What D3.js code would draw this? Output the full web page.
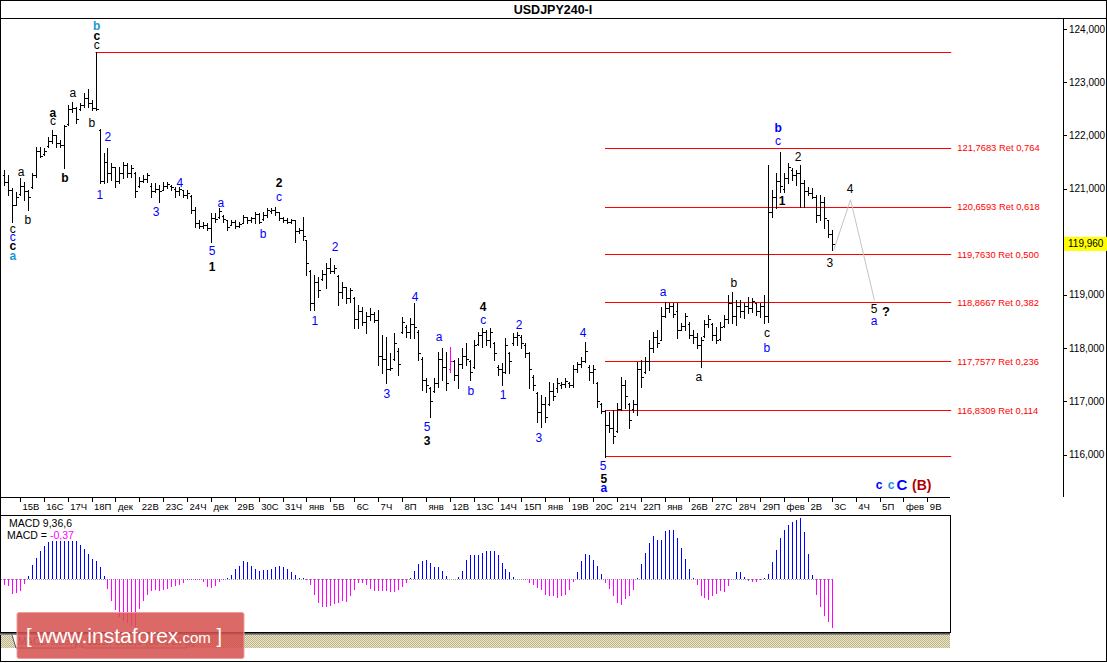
<!DOCTYPE html>
<html><head><meta charset="utf-8">
<script src="https://cdn.jsdelivr.net/npm/d3@7/dist/d3.min.js"></script>
<style>
html,body{margin:0;padding:0;background:#fff;}
svg{display:block;font-family:"Liberation Sans",Arial,sans-serif;}
</style></head><body>
<svg id="chart" width="1107" height="663"></svg>
<script>
// ---------------- DATA ----------------
const title = "USDJPY240-I";

const opens = [
121.25,121.12,120.97,120.70,120.90,121.05,120.95,121.02,121.25,121.70,
121.65,121.80,121.90,122.00,121.85,121.82,122.22,122.50,122.52,122.50,
122.58,122.70,122.60,122.52,122.10,121.15,121.50,121.30,121.40,121.15,
121.30,121.45,121.30,121.30,121.05,121.15,121.18,121.05,120.95,121.00,
120.98,121.05,121.05,121.00,120.95,120.97,120.88,120.86,120.60,120.35,
120.30,120.32,120.25,120.45,120.46,120.48,120.40,120.32,120.38,120.30,
120.36,120.46,120.40,120.45,120.52,120.42,120.50,120.58,120.60,120.55,
120.45,120.40,120.38,120.40,120.20,120.22,120.03,119.45,118.85,119.25,
119.30,119.40,119.50,119.45,119.35,119.05,119.15,118.95,118.95,118.55,
118.70,118.50,118.60,118.65,118.52,117.85,117.80,117.60,117.80,117.95,
118.30,118.40,118.30,118.45,118.30,117.80,117.40,117.25,117.20,117.35,
117.80,117.65,117.60,117.75,117.50,117.70,117.85,117.75,117.65,118.08,
118.25,118.30,118.15,118.10,117.65,117.60,117.55,117.90,118.10,118.20,
118.20,118.05,117.90,117.45,117.15,116.80,116.95,116.95,117.20,117.25,
117.30,117.32,117.35,117.30,117.60,117.70,117.75,117.65,117.55,117.35,
116.95,116.82,116.55,116.50,116.45,116.85,117.30,116.95,116.85,116.95,
117.60,117.55,117.75,118.00,118.20,118.15,118.60,118.75,118.80,118.70,
118.35,118.42,118.45,118.25,118.20,118.05,118.22,118.45,118.45,118.25,
118.18,118.42,118.55,118.85,118.60,118.80,118.70,118.80,118.75,118.85,
118.70,118.80,118.60,120.55,120.85,121.15,121.00,121.20,121.35,121.25,
121.30,121.10,120.95,120.92,120.85,120.50,120.75,120.40,120.15];

const highs = [
121.35,121.25,121.01,120.93,121.20,121.12,120.97,121.29,121.78,121.78,
121.76,121.97,122.10,122.01,121.91,122.20,122.57,122.63,122.53,122.61,
122.80,122.87,122.67,123.57,122.12,121.67,121.76,121.48,121.40,121.40,
121.50,121.48,121.44,121.31,121.22,121.25,121.29,121.10,121.10,121.07,
121.12,121.12,121.07,121.03,121.03,120.97,120.97,120.88,120.65,120.41,
120.37,120.35,120.54,120.54,120.63,120.50,120.41,120.41,120.41,120.37,
120.50,120.47,120.47,120.56,120.54,120.56,120.63,120.63,120.65,120.56,
120.47,120.45,120.43,120.41,120.26,120.47,120.03,119.47,119.38,119.34,
119.47,119.60,119.70,119.56,119.38,119.24,119.15,119.13,118.96,118.81,
118.77,118.68,118.75,118.68,118.72,118.25,118.21,117.91,118.28,118.00,
118.59,118.44,118.57,118.85,118.34,117.83,117.44,117.27,117.44,117.93,
118.00,117.93,118.02,117.78,117.81,118.00,118.10,117.78,118.15,118.30,
118.38,118.34,118.38,118.12,117.68,117.72,118.19,117.93,118.28,118.30,
118.25,118.10,117.93,117.50,117.18,117.12,117.08,117.36,117.34,117.44,
117.36,117.44,117.36,117.68,117.74,117.83,118.12,117.68,117.68,117.36,
116.97,116.84,116.80,116.84,116.97,117.46,117.40,116.97,117.02,117.74,
117.78,117.83,118.15,118.30,118.34,118.77,118.87,118.85,118.85,118.85,
118.47,118.66,118.49,118.34,118.28,118.21,118.53,118.62,118.47,118.40,
118.49,118.62,119.00,119.06,118.91,118.91,118.85,118.96,118.94,118.85,
118.85,119.00,121.44,120.97,121.29,121.69,121.29,121.48,121.39,121.35,
121.44,121.16,121.03,121.01,120.88,120.88,120.84,120.41,120.22];

const lows = [
121.07,120.88,120.37,120.69,120.88,120.79,120.60,121.01,121.22,121.59,
121.63,121.78,121.86,121.78,121.78,121.39,122.20,122.44,122.23,122.48,
122.53,122.53,122.48,122.48,121.10,121.10,121.12,121.16,121.03,121.10,
121.20,121.22,121.22,120.84,121.03,121.12,121.12,120.84,120.93,120.75,
120.97,121.01,120.97,120.84,120.88,120.84,120.82,120.54,120.28,120.26,
120.26,120.22,119.99,120.37,120.45,120.37,120.22,120.32,120.26,120.28,
120.35,120.35,120.37,120.35,120.35,120.41,120.47,120.54,120.50,120.41,
120.37,120.35,120.35,119.99,120.16,120.03,119.38,118.72,118.72,118.96,
119.28,119.13,119.41,119.41,118.81,118.94,118.85,118.87,118.38,118.38,
118.44,118.28,118.53,118.49,117.68,117.53,117.35,117.59,117.78,117.50,
118.28,118.21,118.19,118.19,117.78,117.21,117.18,116.71,117.18,117.27,
117.40,117.21,117.55,117.40,117.25,117.63,117.68,117.40,117.63,118.06,
118.02,118.06,118.02,117.78,117.50,117.31,117.53,117.53,118.06,118.06,
118.00,117.83,117.25,117.21,116.61,116.52,116.61,116.93,117.02,117.18,
117.25,117.27,117.27,117.27,117.55,117.65,117.74,117.40,117.34,116.89,
116.78,115.95,116.42,116.22,116.42,116.84,116.87,116.50,116.80,116.74,
117.27,117.53,117.59,117.93,118.02,118.15,118.59,118.68,118.59,118.19,
118.34,118.34,118.19,118.10,118.00,117.65,118.21,118.40,118.15,118.10,
118.15,118.40,118.47,118.47,118.44,118.59,118.57,118.66,118.68,118.62,
118.59,118.47,118.49,120.47,120.63,120.93,120.93,121.10,121.16,121.07,
120.65,120.65,120.88,120.82,120.37,120.41,120.26,120.09,119.85];

const closes = [
121.12,120.97,120.70,120.85,121.05,120.95,120.85,121.25,121.70,121.62,
121.70,121.90,122.00,121.85,121.82,122.18,122.50,122.52,122.30,122.58,
122.70,122.60,122.52,122.50,121.15,121.50,121.30,121.40,121.15,121.30,
121.45,121.30,121.38,120.95,121.15,121.18,121.25,120.95,121.00,120.95,
121.05,121.08,121.02,120.95,121.00,120.88,120.92,120.60,120.35,120.30,
120.32,120.25,120.45,120.42,120.58,120.42,120.28,120.38,120.30,120.34,
120.46,120.40,120.45,120.52,120.38,120.50,120.60,120.60,120.55,120.45,
120.40,120.38,120.40,120.20,120.22,120.10,119.60,118.85,119.25,119.10,
119.40,119.50,119.45,119.50,119.05,119.15,118.95,119.10,118.55,118.70,
118.50,118.60,118.65,118.52,117.85,117.80,117.60,117.62,118.10,117.70,
118.50,118.30,118.45,118.40,117.90,117.40,117.30,117.00,117.35,117.80,
117.65,117.35,117.75,117.50,117.70,117.85,117.80,117.55,118.05,118.25,
118.30,118.15,118.30,117.90,117.60,117.55,118.05,117.75,118.20,118.25,
118.10,117.90,117.60,117.30,116.80,116.95,116.70,117.20,117.10,117.35,
117.32,117.38,117.30,117.60,117.70,117.75,117.95,117.55,117.60,117.00,
116.82,116.55,116.50,116.35,116.85,117.30,117.10,116.65,116.95,117.60,
117.45,117.75,118.00,118.20,118.10,118.60,118.75,118.80,118.65,118.35,
118.42,118.60,118.25,118.20,118.05,118.15,118.45,118.55,118.25,118.15,
118.40,118.55,118.85,118.60,118.80,118.70,118.80,118.75,118.88,118.70,
118.80,118.60,120.55,120.85,121.15,121.05,121.20,121.40,121.25,121.30,
121.10,120.95,120.92,120.85,120.50,120.75,120.45,120.15,119.96];

const highlightBar = 112;           // bar drawn in magenta
const currentPrice = 119.960;

const macd = [
-.045,-.053,-.113,-.106,-.091,-.038,.023,.106,.159,.211,
.249,.279,.287,.287,.287,.287,.287,.287,.287,.257,
.227,.189,.151,.136,.091,.023,-.076,-.166,-.234,-.287,
-.317,-.332,-.355,-.362,-.227,-.166,-.121,-.091,-.083,-.091,
-.083,-.076,-.060,-.053,-.045,-.030,-.008,-.008,-.008,-.008,
-.023,-.060,-.068,-.053,-.023,-.008,.008,.030,.076,.098,
.136,.128,.098,.076,.060,.068,.068,.076,.091,.098,
.091,.076,.053,.030,.008,.004,-.008,-.045,-.121,-.181,
-.211,-.211,-.204,-.189,-.181,-.166,-.174,-.128,-.083,-.030,
-.030,-.045,-.076,-.091,-.091,-.091,-.091,-.098,-.098,-.083,
-.060,-.030,.008,.060,.113,.136,.143,.121,.091,.091,
.060,.023,.003,.003,.015,.060,.143,.181,.181,.181,
.196,.211,.211,.211,.181,.121,.076,.053,.015,.003,
-.003,-.008,-.030,-.045,-.068,-.083,-.121,-.128,-.128,-.143,
-.128,-.121,-.083,-.023,.053,.136,.189,.181,.143,.098,
.038,-.030,-.076,-.128,-.181,-.196,-.151,-.128,-.083,.008,
.113,.196,.272,.325,.294,.294,.362,.370,.370,.310,
.234,.151,.076,.008,-.045,-.128,-.143,-.159,-.128,-.113,
-.091,-.098,-.053,.003,.053,.053,.015,-.015,-.023,-.023,
-.008,.008,.038,.128,.219,.310,.370,.408,.430,.445,
.461,.355,.189,.030,-.121,-.211,-.279,-.325,-.370];
const macdParams = "MACD 9,36,6";
const macdLast = "-0,37";

const dayLabels = ["15В","16С","17Ч","18П","дек","22В","23С","24Ч","дек","29В","30С","31Ч",
"янв","5В","6С","7Ч","8П","янв","12В","13С","14Ч","15П","янв","19В","20С","21Ч","22П",
"янв","26В","27С","28Ч","29П","фев","2В","3С","4Ч","5П","фев","9В"];
const barsPerDay = 6, firstDayBar = 4;

const priceTicks = [116,117,118,119,120,121,122,123,124];

const fibHigh = 123.561, fibLow = 115.965;
const fibLevels = [121.7683,120.6593,119.7630,118.8667,117.7577,116.8309];
const fibRatios = ["0,764","0,618","0,500","0,382","0,236","0,114"];
const fibHighBar = 23, fibLowBar = 151, fibEndBar = 238;

// projected path (bar index, price)
const projIdx = [208.5, 212.7, 218.7];
const projPrice = [119.85, 120.79, 118.90];

// wave labels: [bar index, price, text, colour key, bold, size]
const waveLabels = [
 [23.3,124.06,"b","c",1],[23.3,123.87,"c","k",1],[23.3,123.70,"c","k",0],
 [17.3,122.80,"a","k",0],[12.3,122.42,"a","k",1],[12.3,122.27,"c","k",0],
 [22.1,122.23,"b","k",0],[26.1,121.97,"2","b",0],[4.3,121.31,"a","k",0],
 [15.3,121.20,"b","k",1],[24.1,120.88,"1","b",0],[44.2,121.10,"4","b",0],
 [38.2,120.56,"3","b",0],[6.0,120.41,"b","k",0],[2.2,120.24,"c","k",0],
 [2.2,120.09,"c","b",0],[2.2,119.92,"c","k",1],[2.2,119.73,"a","c",1],
 [69.1,121.10,"2","k",1],[69.1,120.84,"c","b",0],[54.5,120.73,"a","b",0],
 [65.1,120.15,"b","b",0],[52.3,119.83,"5","b",0],[52.3,119.53,"1","k",1],
 [83.2,119.90,"2","b",0],[78.1,118.51,"1","b",0],[103.3,118.96,"4","b",0],
 [96.2,117.14,"3","b",0],[109.3,118.21,"a","b",0],[120.4,118.77,"4","k",1],
 [120.4,118.53,"c","b",0],[129.4,118.43,"2","b",0],[106.3,116.52,"5","b",0],
 [106.3,116.26,"3","k",1],[117.3,117.20,"b","b",0],[125.4,117.12,"1","b",0],
 [145.5,118.28,"4","b",0],[134.4,116.31,"3","b",0],[150.5,115.78,"5","b",0],
 [150.7,115.54,"5","k",1],[150.7,115.37,"a","b",1],[165.6,119.06,"a","b",0],
 [174.6,117.46,"a","k",0],[183.4,119.22,"b","k",0],[191.7,118.28,"c","k",0],
 [191.7,118.00,"b","b",0],[194.5,122.14,"b","b",1],[194.5,121.89,"c","b",0],
 [199.5,121.59,"2","k",0],[195.5,120.77,"1","k",1],[207.5,119.60,"3","k",0],
 [212.6,120.99,"4","k",0],[218.6,118.74,"5","k",0],[218.6,118.51,"a","b",0],
 [221.6,118.68,"?","k",1,13],
 [219.9,115.43,"c","b",1],[222.9,115.43,"c","c",1],[225.6,115.43,"C","b",1,15],
 [230.6,115.43,"(B)","r",1,14]
];
const labelColors = {k:"#000000", b:"#0000ff", c:"#1a98d6", r:"#b00000"};

// ---------------- DRAW ----------------
const svg = d3.select("#chart");
const FONT = "'Liberation Sans', Arial, sans-serif";
const step = 3.98;
const x = d3.scaleLinear().domain([0, 1]).range([4, 4 + step]);
const y = d3.scaleLinear().domain([116, 124]).range([454.5, 29]);
const ym = d3.scaleLinear().domain([-0.40, 0.468]).range([632, 517]);
const px = v => Math.round(v) + 0.5;
const fmt = v => v.toFixed(3).replace(".", ",");

const defs = svg.append("defs");
const pat = defs.append("pattern").attr("id","hatch").attr("width",2).attr("height",2)
  .attr("patternUnits","userSpaceOnUse");
pat.append("rect").attr("width",2).attr("height",2).attr("fill","#ece6c8");
pat.append("rect").attr("width",1).attr("height",1).attr("fill","#bdb48a");
pat.append("rect").attr("x",1).attr("y",1).attr("width",1).attr("height",1).attr("fill","#bdb48a");
defs.append("clipPath").attr("id","mainClip").append("rect")
  .attr("x",1).attr("y",19).attr("width",1061).attr("height",478);

// frame
svg.append("rect").attr("x",0.5).attr("y",0.5).attr("width",1106).attr("height",661)
  .attr("fill","#fff").attr("stroke","#000");
svg.append("line").attr("x1",0).attr("x2",1107).attr("y1",18.5).attr("y2",18.5).attr("stroke","#000");
svg.append("text").attr("x",553).attr("y",14).attr("text-anchor","middle")
  .attr("font-family",FONT).attr("font-weight","bold").attr("font-size",12.5).text(title);

// right price axis
svg.append("line").attr("x1",1063.5).attr("x2",1063.5).attr("y1",18).attr("y2",497).attr("stroke","#000");
const pa = svg.append("g");
pa.selectAll("line").data(priceTicks).join("line")
  .attr("x1",1063).attr("x2",1067).attr("y1",d=>px(y(d))).attr("y2",d=>px(y(d))).attr("stroke","#000");
pa.selectAll("text").data(priceTicks).join("text")
  .attr("x",1069).attr("y",d=>y(d)+3.5).attr("font-family",FONT).attr("font-size",10)
  .text(d=>fmt(d));
svg.append("rect").attr("x",1064).attr("y",y(currentPrice)-7).attr("width",43).attr("height",14).attr("fill","#ffff00");
svg.append("text").attr("x",1068).attr("y",y(currentPrice)+3.5).attr("font-family",FONT)
  .attr("font-size",10).text(fmt(currentPrice));

// time axis strip
svg.append("line").attr("x1",0).attr("x2",950).attr("y1",497.5).attr("y2",497.5).attr("stroke","#000");
const ta = svg.append("g");
const dayX = d => x(firstDayBar + barsPerDay*d);
ta.selectAll("line").data(dayLabels).join("line")
  .attr("x1",(d,i)=>px(dayX(i))).attr("x2",(d,i)=>px(dayX(i))).attr("y1",497).attr("y2",502).attr("stroke","#000");
ta.selectAll("text").data(dayLabels).join("text")
  .attr("x",(d,i)=>dayX(i)+2.5).attr("y",510).attr("font-family",FONT).attr("font-size",9.5).text(d=>d);

// main chart
const main = svg.append("g").attr("clip-path","url(#mainClip)");

// fib lines
main.append("line").attr("x1",x(fibHighBar)).attr("x2",x(fibEndBar))
  .attr("y1",px(y(fibHigh))).attr("y2",px(y(fibHigh))).attr("stroke","#ff0000");
main.append("line").attr("x1",x(fibLowBar)).attr("x2",x(fibEndBar))
  .attr("y1",px(y(fibLow))).attr("y2",px(y(fibLow))).attr("stroke","#ff0000");
main.selectAll(".fib").data(fibLevels).join("line").attr("class","fib")
  .attr("x1",x(fibLowBar)).attr("x2",x(fibEndBar))
  .attr("y1",d=>px(y(d))).attr("y2",d=>px(y(d))).attr("stroke","#ff0000");
main.selectAll(".fibt").data(fibLevels).join("text").attr("class","fibt")
  .attr("x",x(fibEndBar)+6).attr("y",d=>y(d)+3.5).attr("fill","#ff0000")
  .attr("font-family",FONT).attr("font-size",9.4)
  .text((d,i)=>d.toFixed(4).replace(".",",")+" Ret "+fibRatios[i]);

// price bars
const idx = d3.range(opens.length);
main.selectAll(".bar").data(idx).join("path").attr("class","bar")
  .attr("fill","none").attr("stroke",i=>i===highlightBar?"#ff00ff":"#000").attr("stroke-width",1)
  .attr("shape-rendering","crispEdges")
  .attr("d",i=>{
    const cx = px(x(i));
    return `M${cx},${Math.round(y(highs[i]))}V${Math.round(y(lows[i]))+1}`+
      `M${cx-2},${px(y(opens[i]))}H${cx}M${cx},${px(y(closes[i]))}H${cx+2.5}`;
  });

// projection
const proj = d3.line().x(d=>x(d[0])).y(d=>y(d[1]));
main.append("path").attr("d",proj(projIdx.map((v,k)=>[v,projPrice[k]])))
  .attr("fill","none").attr("stroke","#c4c4c4").attr("stroke-width",1);

// wave labels
main.selectAll(".wl").data(waveLabels).join("text").attr("class","wl")
  .attr("x",d=>x(d[0])).attr("y",d=>y(d[1])).attr("text-anchor","middle")
  .attr("dominant-baseline","central").attr("font-family",FONT)
  .attr("font-size",d=>d[5]||12).attr("font-weight",d=>d[4]?"bold":"normal")
  .attr("fill",d=>labelColors[d[3]]).text(d=>d[2]);

// MACD panel
svg.append("rect").attr("x",0.5).attr("y",515.5).attr("width",950).attr("height",117)
  .attr("fill","#fff").attr("stroke","#000");
svg.append("line").attr("x1",1).attr("x2",x(macd.length-1)).attr("y1",px(ym(0))).attr("y2",px(ym(0)))
  .attr("stroke","#9a9a9a").attr("stroke-dasharray","1,1");
svg.append("g").selectAll("line").data(macd).join("line")
  .attr("x1",(d,i)=>px(x(i))).attr("x2",(d,i)=>px(x(i)))
  .attr("y1",Math.round(ym(0))).attr("y2",d=>ym(d))
  .attr("stroke",d=>d>=0?"#0000ff":"#ff00ff").attr("shape-rendering","crispEdges");
svg.append("text").attr("x",9).attr("y",527).attr("font-family",FONT).attr("font-size",10.5).text(macdParams);
const mt = svg.append("text").attr("x",7).attr("y",539).attr("font-family",FONT).attr("font-size",10.5);
mt.append("tspan").text("MACD = ");
mt.append("tspan").attr("fill","#ff00ff").text(macdLast);

// bottom tab strip
svg.append("rect").attr("x",1).attr("y",634).attr("width",949).attr("height",14).attr("fill","url(#hatch)");
svg.append("line").attr("x1",0).attr("x2",950).attr("y1",633.5).attr("y2",633.5).attr("stroke","#555");
svg.append("line").attr("x1",0).attr("x2",950).attr("y1",634.5).attr("y2",634.5).attr("stroke","#888");
svg.append("path").attr("d","M12,635L16,648H75L79,635").attr("fill","#fff").attr("stroke","#555");
svg.append("path").attr("d","M79,635L83,648H186L190,635").attr("fill","#ece6c8").attr("stroke","#777");
svg.append("text").attr("x",18).attr("y",645).attr("font-family",FONT).attr("font-size",10).attr("fill","#555").text(macdParams);
svg.append("text").attr("x",86).attr("y",645).attr("font-family",FONT).attr("font-size",10).attr("fill","#555").text("Stoch 13,3,3 (80%-20%)");

// watermark
const wm = svg.append("g");
wm.append("rect").attr("x",17).attr("y",612.5).attr("width",227).attr("height",46).attr("rx",2)
  .attr("fill","#d5504f").attr("fill-opacity",0.86).attr("stroke","#eaa0a0");
const wt = wm.append("text").attr("x",26).attr("y",643).attr("fill","#fff").attr("font-family",FONT);
wt.append("tspan").attr("font-size",20).text("[ ");
wt.append("tspan").attr("font-size",21).text("www.instaforex");
wt.append("tspan").attr("font-size",15).text(".com");
wt.append("tspan").attr("font-size",20).text(" ]");
</script>
</body></html>
